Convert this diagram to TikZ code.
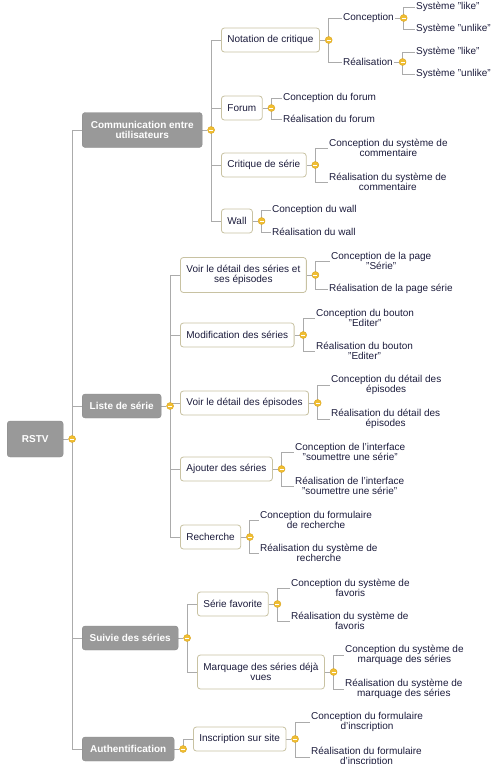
\documentclass[tikz,border=0pt]{standalone}
\usepackage{fontspec}
\setmainfont{Liberation Sans}
\usetikzlibrary{positioning,backgrounds}

\definecolor{topicgray}{HTML}{999999}
\definecolor{topicedge}{HTML}{8A8A8A}
\definecolor{subedge}{HTML}{C8C2A2}
\definecolor{linkgray}{HTML}{ABABAB}
\definecolor{knobfill}{HTML}{F0BE32}
\definecolor{knobedge}{HTML}{D9A31E}
\definecolor{inkblue}{HTML}{1C1C3C}

\tikzset{
  topic/.style={rectangle, rounded corners=3pt, fill=topicgray, draw=topicedge,
    text=white, font=\fontsize{10}{10.5}\selectfont\bfseries, align=center,
    inner xsep=6pt, minimum height=24pt, anchor=west},
  subtopic/.style={rectangle, rounded corners=3pt, fill=white, draw=subedge,
    line width=0.8pt, text=inkblue, font=\fontsize{10}{10.5}\selectfont,
    align=center, inner xsep=6pt, minimum height=24pt, anchor=west},
  leaf/.style={inner sep=1pt, text=inkblue, font=\fontsize{10}{10.5}\selectfont,
    align=center, anchor=west},
  knob/.style={circle, fill=knobfill, draw=knobedge, line width=0.4pt,
    inner sep=0pt, minimum size=7pt, right=5pt of #1,
    path picture={\draw[white, line width=0.7pt]
      ([xshift=-2pt]path picture bounding box.center) --
      ([xshift=2pt]path picture bounding box.center);}},
  link/.style={draw=linkgray, line width=0.9pt},
}

\begin{document}
\begin{tikzpicture}[x=1pt, y=-1pt]
\useasboundingbox (0,0) rectangle (500,764);

% root and main branches
\node[topic, minimum width=56pt, minimum height=36pt] (rstv) at (7,439) {RSTV};
\node[knob=rstv] (krstv) {};
\node[topic, minimum width=120pt, minimum height=35pt] (comm) at (82,130) {Communication entre\\utilisateurs};
\node[knob=comm] (kcomm) {};
\node[topic, minimum width=79pt] (liste) at (82,406) {Liste de série};
\node[knob=liste] (kliste) {};
\node[topic, minimum width=96pt] (suivie) at (82,638) {Suivie des séries};
\node[knob=suivie] (ksuivie) {};
\node[topic, minimum width=92pt] (auth) at (82,749) {Authentification};
\node[knob=auth] (kauth) {};

% Communication entre utilisateurs
\node[subtopic] (notation) at (221,40) {Notation de critique};
\node[knob=notation] (knotation) {};
\node[subtopic] (forum) at (221,108) {Forum};
\node[knob=forum] (kforum) {};
\node[subtopic] (critique) at (221,165) {Critique de série};
\node[knob=critique] (kcritique) {};
\node[subtopic] (wall) at (221,221) {Wall};
\node[knob=wall] (kwall) {};

\node[leaf] (notconc) at (342,18) {Conception};
\node[knob=notconc] (knotconc) {};
\node[leaf] (notreal) at (342,62) {Réalisation};
\node[knob=notreal] (knotreal) {};
\node[leaf] (conclike) at (415,7) {Système "like"};
\node[leaf] (concunlike) at (415,29) {Système "unlike"};
\node[leaf] (reallike) at (415,52) {Système "like"};
\node[leaf] (realunlike) at (415,74) {Système "unlike"};

\node[leaf] (forconc) at (282,98) {Conception du forum};
\node[leaf] (forreal) at (282,119) {Réalisation du forum};
\node[leaf] (criconc) at (328,148) {Conception du système de\\commentaire};
\node[leaf] (crireal) at (328,182) {Réalisation du système de\\commentaire};
\node[leaf] (wallconc) at (271,210) {Conception du wall};
\node[leaf] (wallreal) at (271,232) {Réalisation du wall};

% Liste de série
\node[subtopic, minimum height=35pt] (voirser) at (180,275) {Voir le détail des séries et\\ses épisodes};
\node[knob=voirser] (kvoirser) {};
\node[subtopic] (modif) at (180,335) {Modification des séries};
\node[knob=modif] (kmodif) {};
\node[subtopic] (voirepi) at (180,403) {Voir le détail des épisodes};
\node[knob=voirepi] (kvoirepi) {};
\node[subtopic] (ajout) at (180,469) {Ajouter des séries};
\node[knob=ajout] (kajout) {};
\node[subtopic] (rech) at (180,537) {Recherche};
\node[knob=rech] (krech) {};

\node[leaf] (vsconc) at (330,261) {Conception de la page\\"Série"};
\node[leaf] (vsreal) at (328,289) {Réalisation de la page série};
\node[leaf] (moconc) at (315,318) {Conception du bouton\\"Editer"};
\node[leaf] (moreal) at (315,351) {Réalisation du bouton\\"Editer"};
\node[leaf] (veconc) at (330,385) {Conception du détail des\\épisodes};
\node[leaf] (vereal) at (330,419) {Réalisation du détail des\\épisodes};
\node[leaf] (ajconc) at (294,452) {Conception de l'interface\\"soumettre une série"};
\node[leaf] (ajreal) at (294,486) {Réalisation de l'interface\\"soumettre une série"};
\node[leaf] (reconc) at (259,520) {Conception du formulaire\\de recherche};
\node[leaf] (rereal) at (259,553) {Réalisation du système de\\recherche};

% Suivie des séries
\node[subtopic] (favori) at (197,604) {Série favorite};
\node[knob=favori] (kfavori) {};
\node[subtopic, minimum height=34pt] (marq) at (197,672) {Marquage des séries déjà\\vues};
\node[knob=marq] (kmarq) {};

\node[leaf] (faconc) at (290,588) {Conception du système de\\favoris};
\node[leaf] (fareal) at (290,621) {Réalisation du système de\\favoris};
\node[leaf] (maconc) at (344,655) {Conception du système de\\marquage des séries};
\node[leaf] (mareal) at (344,689) {Réalisation du système de\\marquage des séries};

% Authentification
\node[subtopic] (inscr) at (193,739) {Inscription sur site};
\node[knob=inscr] (kinscr) {};

\node[leaf] (inconc) at (310,722) {Conception du formulaire\\d'inscription};
\node[leaf] (inreal) at (310,757) {Réalisation du formulaire\\d'inscription};

\begin{scope}[on background layer]
% parent to knob
\draw[link] (rstv) -- (krstv) (comm) -- (kcomm) (liste) -- (kliste)
  (suivie) -- (ksuivie) (auth) -- (kauth);
\draw[link] (notation) -- (knotation) (forum) -- (kforum)
  (critique) -- (kcritique) (wall) -- (kwall) (notconc) -- (knotconc)
  (notreal) -- (knotreal);
\draw[link] (voirser) -- (kvoirser) (modif) -- (kmodif) (voirepi) -- (kvoirepi)
  (ajout) -- (kajout) (rech) -- (krech) (favori) -- (kfavori)
  (marq) -- (kmarq) (inscr) -- (kinscr);
% knob to children
\draw[link] (krstv.center) |- (comm.west) (krstv.center) |- (liste.west)
  (krstv.center) |- (suivie.west) (krstv.center) |- (auth.west);
\draw[link] (kcomm.center) |- (notation.west) (kcomm.center) |- (forum.west)
  (kcomm.center) |- (critique.west) (kcomm.center) |- (wall.west);
\draw[link] (knotation.center) |- (notconc.west) (knotation.center) |- (notreal.west);
\draw[link] (knotconc.center) |- (conclike.west) (knotconc.center) |- (concunlike.west);
\draw[link] (knotreal.center) |- (reallike.west) (knotreal.center) |- (realunlike.west);
\draw[link] (kforum.center) |- (forconc.west) (kforum.center) |- (forreal.west);
\draw[link] (kcritique.center) |- (criconc.west) (kcritique.center) |- (crireal.west);
\draw[link] (kwall.center) |- (wallconc.west) (kwall.center) |- (wallreal.west);
\draw[link] (kliste.center) |- (voirser.west) (kliste.center) |- (modif.west)
  (kliste.center) |- (voirepi.west) (kliste.center) |- (ajout.west)
  (kliste.center) |- (rech.west);
\draw[link] (kvoirser.center) |- (vsconc.west) (kvoirser.center) |- (vsreal.west);
\draw[link] (kmodif.center) |- (moconc.west) (kmodif.center) |- (moreal.west);
\draw[link] (kvoirepi.center) |- (veconc.west) (kvoirepi.center) |- (vereal.west);
\draw[link] (kajout.center) |- (ajconc.west) (kajout.center) |- (ajreal.west);
\draw[link] (krech.center) |- (reconc.west) (krech.center) |- (rereal.west);
\draw[link] (ksuivie.center) |- (favori.west) (ksuivie.center) |- (marq.west);
\draw[link] (kfavori.center) |- (faconc.west) (kfavori.center) |- (fareal.west);
\draw[link] (kmarq.center) |- (maconc.west) (kmarq.center) |- (mareal.west);
\draw[link] (kauth.center) |- (inscr.west);
\draw[link] (kinscr.center) |- (inconc.west) (kinscr.center) |- (inreal.west);
\end{scope}
\end{tikzpicture}
\end{document}
